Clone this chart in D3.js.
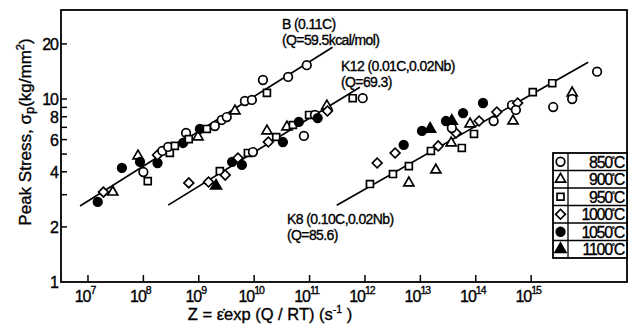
<!DOCTYPE html>
<html><head><meta charset="utf-8">
<script src="https://cdn.jsdelivr.net/npm/d3@7"></script>
<style>
html,body{margin:0;padding:0;background:#fff;}
svg{display:block;}
text{font-family:"Liberation Sans",Arial,sans-serif;fill:#000;stroke:#000;stroke-width:0.35px;}
</style></head>
<body><svg id="c" width="632" height="331"></svg>
<script>
// ---- data ----
const temps = [850, 900, 950, 1000, 1050, 1100];
const tempLabels = ["850", "900", "950", "1000", "1050", "1100"];
const xTickExps = [7, 8, 9, 10, 11, 12, 13, 14, 15];
const yTicks = [2, 3, 4, 5, 6, 7, 8, 9, 10, 20];
const yTickLabels = [1, 2, 4, 6, 8, 10, 20];

// [Z (s^-1), peak stress (kg/mm2), temperature C]
const pointsB = [
  [1.5e7,2.74,1050],[1.9e7,3.10,1000],[2.8e7,3.10,900],[4.1e7,4.20,1050],
  [1.0e8,3.99,850],[1.2e8,3.56,950],[8.0e7,4.88,900],[8.7e7,4.53,1050],
  [1.8e8,4.47,1050],[1.8e8,4.94,1000],[2.2e8,5.20,850],[3.0e8,5.07,950],
  [2.8e8,5.47,850],[3.7e8,5.54,950],[5.2e8,5.75,1050],[5.9e8,6.52,850],
  [6.6e8,6.04,950],[9.7e8,6.20,900],[1.05e9,6.86,1050],[1.4e9,6.86,950],
  [1.95e9,7.12,850],[2.6e9,7.68,850],[3.2e9,7.97,850],[4.5e9,8.60,900],
  [6.8e9,9.75,850],[9.1e9,9.88,850],[1.7e10,10.8,950],[1.44e10,12.7,850],
  [4.1e10,13.2,850],[8.9e10,15.3,850]
];
const pointsK12 = [
  [6.6e8,3.48,1000],[1.5e9,3.52,1000],[2.05e9,3.35,1100],[2.4e9,4.04,950],
  [3.0e9,3.84,1000],[4.0e9,4.53,1050],[5.1e9,4.76,1000],[6.0e9,4.36,1050],
  [7.7e9,5.07,950],[9.5e9,5.13,850],[1.8e10,5.82,1000],[1.7e10,6.69,900],
  [2.5e10,6.20,950],[3.3e10,5.82,1050],[3.9e10,7.03,900],[5.0e10,7.21,950],
  [6.4e10,7.49,1050],[7.9e10,6.28,850],[9.8e10,8.18,950],[1.25e11,8.18,850],
  [1.4e11,7.87,1050],[2.05e11,9.16,900],[2.1e11,8.60,1000],[6.0e11,10.1,950],
  [9.1e11,10.1,850]
];
const pointsK8 = [
  [1.23e12,3.43,950],[3.2e12,3.89,950],[6.2e12,4.30,950],[1.66e12,4.47,1000],
  [3.5e12,5.07,1000],[5.0e12,5.61,1050],[6.2e12,3.48,900],[1.9e13,4.09,900],
  [1.55e13,5.20,950],[2.1e13,5.54,1000],[3.6e13,5.75,900],[5.6e13,5.40,950],
  [4.4e13,6.52,1000],[3.7e13,6.94,850],[9.3e13,6.44,950],[1.07e13,6.69,1050],
  [1.5e13,6.86,1100],[2.9e13,7.58,1050],[3.7e13,7.58,1100],[5.9e13,8.38,1050],
  [1.35e14,9.51,1050],[1.15e14,7.58,1000],[7.9e13,7.30,900],[2.1e14,7.58,850],
  [2.4e14,8.49,1000],[4.5e14,9.27,850],[5.7e14,9.51,1000],[5.3e14,8.71,850],
  [4.7e14,7.58,900],[1.07e15,10.9,950],[2.4e15,12.2,950],[2.5e15,9.04,850],
  [5.5e15,10.8,900],[5.5e15,10.0,850],[1.55e16,14.1,850]
];
// fitted lines: [Z, stress] end points
const lineB = [[7.2e6,2.60],[2.6e11,19.2]];
const lineK12 = [[2.8e8,2.63],[8.1e11,11.6]];
const lineK8 = [[3.1e11,2.63],[1.07e16,15.9]];

const labelB = ["B (0.11C)", "(Q=59.5kcal/mol)"];
const labelK12 = ["K12 (0.01C,0.02Nb)", "(Q=69.3)"];
const labelK8 = ["K8 (0.10C,0.02Nb)", "(Q=85.6)"];

// ---- drawing ----
const svg = d3.select("#c");
const L = 61, R = 627, T = 10, B = 282;
const x = d3.scaleLog().domain([Math.pow(10,6.513), Math.pow(10,16.73)]).range([L, R]);
const y = d3.scaleLog().domain([1, 30]).range([B, B - 183*Math.log10(30)]);

// frame
svg.append("rect").attr("x", L).attr("y", T).attr("width", R-L).attr("height", B-T)
  .attr("fill", "none").attr("stroke", "#000").attr("stroke-width", 1.8);

// x ticks
const xt = svg.append("g");
xTickExps.forEach(e => {
  const px = x(Math.pow(10, e));
  xt.append("line").attr("x1", px).attr("x2", px).attr("y1", B).attr("y2", B-7)
    .attr("stroke", "#000").attr("stroke-width", 1.5);
  const t = xt.append("text").attr("x", px - 3).attr("y", 302)
    .attr("text-anchor", "middle").attr("font-size", 16).attr("letter-spacing", -1);
  t.append("tspan").text("10");
  t.append("tspan").attr("dy", -8).attr("font-size", 10.5).text(e);
});

// y ticks
const yt = svg.append("g");
yTicks.forEach(v => {
  yt.append("line").attr("x1", L).attr("x2", L+6).attr("y1", y(v)).attr("y2", y(v))
    .attr("stroke", "#000").attr("stroke-width", 1.5);
});
yTickLabels.forEach(v => {
  yt.append("text").attr("x", 58).attr("y", y(v) + 6).attr("text-anchor", "end")
    .attr("font-size", 16).attr("letter-spacing", -1).text(v);
});

// axis titles
const yl = svg.append("text").attr("transform", "translate(31,132) rotate(-90)")
  .attr("text-anchor", "middle").attr("font-size", 17);
yl.append("tspan").text("Peak Stress, σ");
yl.append("tspan").attr("dy", 3).attr("font-size", 13).text("p");
yl.append("tspan").attr("dy", -3).text("(kg/mm");
yl.append("tspan").attr("dy", -7).attr("font-size", 11).text("2");
yl.append("tspan").attr("dy", 7).text(")");

const xl = svg.append("text").attr("x", 270).attr("y", 320).attr("text-anchor", "middle")
  .attr("font-size", 16.5);
xl.append("tspan").text("Z = \u03B5\u0307exp (Q / RT) (s");
xl.append("tspan").attr("dy", -7).attr("font-size", 10.5).text("-1");
xl.append("tspan").attr("dy", 7).text(" )");

// fitted lines
const lineGen = d3.line().x(d => x(d[0])).y(d => y(d[1]));
[lineB, lineK12, lineK8].forEach(l => {
  svg.append("path").attr("d", lineGen(l)).attr("fill", "none")
    .attr("stroke", "#000").attr("stroke-width", 1.7);
});

// symbols
const sym = {
  850: {type: d3.symbolCircle, size: 58, fill: "#fff", rot: 0},
  900: {type: d3.symbolTriangle, size: 44, fill: "#fff", rot: 0},
  950: {type: d3.symbolSquare, size: 48, fill: "#fff", rot: 0},
  1000:{type: d3.symbolSquare, size: 48, fill: "#fff", rot: 45},
  1050:{type: d3.symbolCircle, size: 58, fill: "#000", rot: 0},
  1100:{type: d3.symbolTriangle, size: 50, fill: "#000", rot: 0}
};
function drawSym(g, t, px, py) {
  const s = sym[t];
  g.append("path").attr("d", d3.symbol().type(s.type).size(s.size)())
    .attr("transform", `translate(${px},${py}) rotate(${s.rot})`)
    .attr("fill", s.fill).attr("stroke", "#000").attr("stroke-width", 1.7);
}
const pg = svg.append("g");
[pointsB, pointsK12, pointsK8].forEach(arr => {
  arr.forEach(d => drawSym(pg, d[2], x(d[0]), y(d[1])));
});

// series labels
function label(lines, px, py) {
  lines.forEach((s, i) => {
    svg.append("text").attr("x", px).attr("y", py + i*16).attr("font-size", 14)
      .attr("letter-spacing", -0.6).text(s);
  });
}
label(labelB, 282, 29);
label(labelK12, 341, 71);
label(labelK8, 287, 224);

// legend
const lgX = 553, lgY = 153, lgW = R - lgX, rowH = 17.5;
const lg = svg.append("g");
lg.append("rect").attr("x", lgX).attr("y", lgY).attr("width", lgW).attr("height", rowH*temps.length)
  .attr("fill", "#fff").attr("stroke", "#000").attr("stroke-width", 1.8);
lg.append("line").attr("x1", 568).attr("x2", 568).attr("y1", lgY).attr("y2", lgY + rowH*temps.length)
  .attr("stroke", "#000").attr("stroke-width", 1.3);
temps.forEach((t, i) => {
  const cy = lgY + rowH*i + rowH/2;
  if (i > 0) lg.append("line").attr("x1", lgX).attr("x2", R).attr("y1", lgY + rowH*i).attr("y2", lgY + rowH*i)
    .attr("stroke", "#000").attr("stroke-width", 1.3);
  drawSym(lg, t, 560.5, cy);
  const tx = lg.append("text").attr("x", 624).attr("y", cy + 6).attr("text-anchor", "end")
    .attr("font-size", 16).attr("letter-spacing", -1.3);
  tx.append("tspan").text(tempLabels[i]);
  tx.append("tspan").attr("dy", -6).attr("font-size", 8).text("°");
  tx.append("tspan").attr("dy", 6).text("C");
});
</script></body></html>
